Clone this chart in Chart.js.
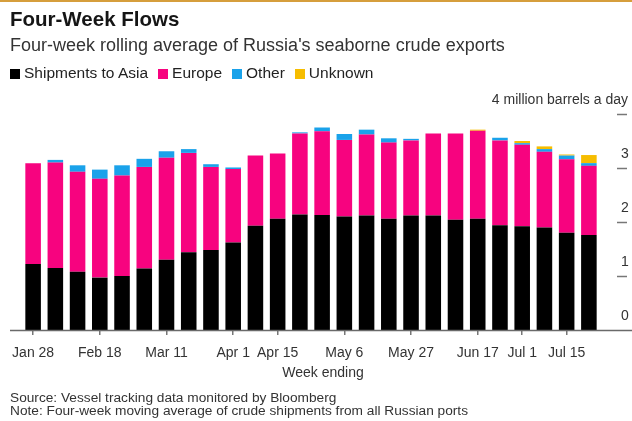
<!DOCTYPE html>
<html>
<head>
<meta charset="utf-8">
<title>Four-Week Flows</title>
<script src="https://cdn.jsdelivr.net/npm/chart.js@4.4.1/dist/chart.umd.min.js"></script>
<style>
  body { margin: 0; background: #fff; }
  #wrap {
    position: relative; width: 632px; height: 421px; overflow: hidden;
    font-family: 'Liberation Sans', Arial, Helvetica, sans-serif; color: #222;
  }
  #rule { position: absolute; left: 0; top: 0; width: 632px; height: 2px; background: #d69e3c; }
  #chart { position: absolute; left: 0; top: 0; }
  .txt { position: absolute; white-space: nowrap; z-index: 2; }
  #title { left: 10px; top: 7px; font-size: 20.5px; line-height: 24px; font-weight: bold; color: #151515; }
  #subtitle { left: 10px; top: 35px; font-size: 18px; line-height: 20px; color: #333; }
  #legend { left: 10px; top: 64px; font-size: 15.5px; line-height: 18px; color: #222; }
  #legend .item { display: inline-block; margin-right: 10px; }
  #legend .box { display: inline-block; width: 10px; height: 10px; margin-right: 4px; vertical-align: -1px; }
  #unit { right: 4px; top: 91px; font-size: 14px; line-height: 16px; color: #333; }
  #xtitle { left: 223px; width: 200px; top: 364px; text-align: center; font-size: 14px; line-height: 16px; color: #333; }
  #source { left: 10px; top: 390px; font-size: 13.7px; line-height: 16px; color: #333; }
  #note { left: 10px; top: 403px; font-size: 13.7px; line-height: 16px; color: #333; }
</style>
</head>
<body>
<div id="wrap">
  <div id="rule"></div>
  <canvas id="chart" width="632" height="421"></canvas>
  <div class="txt" id="title">Four-Week Flows</div>
  <div class="txt" id="subtitle">Four-week rolling average of Russia's seaborne crude exports</div>
  <div class="txt" id="legend"></div>
  <div class="txt" id="unit">4 million barrels a day</div>
  <div class="txt" id="xtitle">Week ending</div>
  <div class="txt" id="source">Source: Vessel tracking data monitored by Bloomberg</div>
  <div class="txt" id="note">Note: Four-week moving average of crude shipments from all Russian ports</div>
</div>
<script>
// Week ending dates, one bar per week
const weeks = [
    'Jan 28', 'Feb 4', 'Feb 11', 'Feb 18', 'Feb 25', 'Mar 4', 'Mar 11', 'Mar 18', 'Mar 25',
    'Apr 1', 'Apr 8', 'Apr 15', 'Apr 22', 'Apr 29', 'May 6', 'May 13', 'May 20', 'May 27',
    'Jun 3', 'Jun 10', 'Jun 17', 'Jun 24', 'Jul 1', 'Jul 8', 'Jul 15', 'Jul 22'
];

// Only these weeks get a label and a tick mark
const tickLabels = ['Jan 28', 'Feb 18', 'Mar 11', 'Apr 1', 'Apr 15', 'May 6', 'May 27', 'Jun 17', 'Jul 1', 'Jul 15'];

// Million barrels a day, four-week rolling average
const asia = [1.22, 1.15, 1.08, 0.97, 1.00, 1.14, 1.30, 1.44, 1.48, 1.62, 1.93, 2.06, 2.14,
              2.13, 2.10, 2.12, 2.06, 2.12, 2.12, 2.04, 2.06, 1.94, 1.92, 1.90, 1.80, 1.76];
const europe = [1.87, 1.95, 1.85, 1.83, 1.86, 1.88, 1.89, 1.84, 1.54, 1.36, 1.30, 1.21, 1.50,
                1.55, 1.42, 1.50, 1.41, 1.39, 1.52, 1.60, 1.63, 1.57, 1.51, 1.40, 1.36, 1.28];
const other = [0, 0.05, 0.12, 0.17, 0.19, 0.15, 0.12, 0.07, 0.05, 0.03, 0, 0, 0.02,
               0.07, 0.11, 0.09, 0.08, 0.03, 0, 0, 0, 0.05, 0.03, 0.05, 0.07, 0.05];
const unknown = [0, 0, 0, 0, 0, 0, 0, 0, 0, 0, 0, 0, 0,
                 0, 0, 0, 0, 0, 0, 0, 0.02, 0, 0.04, 0.05, 0.02, 0.15];

const yTicks = [0, 1, 2, 3, 4];

Chart.defaults.font.family = "'Liberation Sans', Arial, Helvetica, sans-serif";
Chart.defaults.color = '#333';

// Baseline across the full width plus short dashes beside the y labels
const axisMarks = {
    id: 'axisMarks',
    afterDraw(chart) {
        const { ctx, scales: { y } } = chart;
        ctx.save();
        ctx.strokeStyle = '#6a6a6a';
        ctx.lineWidth = 1.5;
        const y0 = y.getPixelForValue(0);
        ctx.beginPath();
        ctx.moveTo(10, y0 + 0.5);
        ctx.lineTo(chart.width, y0 + 0.5);
        ctx.stroke();
        ctx.strokeStyle = '#777';
        ctx.beginPath();
        y.ticks.forEach(t => {
            if (t.value > 0) {
                const py = Math.round(y.getPixelForValue(t.value)) + 0.5;
                ctx.moveTo(y.right - 13, py);
                ctx.lineTo(y.right - 3, py);
            }
        });
        ctx.stroke();
        ctx.restore();
    }
};

const ctx = document.getElementById('chart').getContext('2d');
const chart = new Chart(ctx, {
    type: 'bar',
    data: {
        labels: weeks,
        datasets: [
            { label: 'Shipments to Asia', data: asia, backgroundColor: '#000000' },
            { label: 'Europe', data: europe, backgroundColor: '#f7037f' },
            { label: 'Other', data: other, backgroundColor: '#1aa2ea' },
            { label: 'Unknown', data: unknown, backgroundColor: '#f6bd00' }
        ]
    },
    options: {
        responsive: false,
        animation: false,
        layout: { padding: { top: 114, left: 22, right: 2, bottom: 59 } },
        datasets: { bar: { barPercentage: 0.7, categoryPercentage: 1.0, borderWidth: 0 } },
        plugins: {
            legend: { display: false },
            tooltip: { enabled: false }
        },
        scales: {
            x: {
                stacked: true,
                border: { display: false },
                grid: {
                    offset: false,
                    drawOnChartArea: false,
                    tickLength: 5,
                    lineWidth: 1.5,
                    color: c => (c.tick && tickLabels.includes(c.tick.label) ? '#777' : 'rgba(0,0,0,0)')
                },
                ticks: {
                    autoSkip: false,
                    maxRotation: 0,
                    padding: 10,
                    font: { size: 14 },
                    color: '#333',
                    callback: function (value) {
                        const w = this.getLabelForValue(value);
                        return tickLabels.includes(w) ? w : '';
                    }
                },
                afterFit: s => { s.height = 32; }
            },
            y: {
                stacked: true,
                position: 'right',
                min: 0,
                max: 4,
                afterBuildTicks: s => { s.ticks = yTicks.map(v => ({ value: v })); },
                border: { display: false },
                grid: { display: false, drawTicks: false },
                ticks: {
                    padding: 21,
                    labelOffset: -14,
                    font: { size: 14 },
                    color: '#333',
                    callback: v => (v === 4 ? '' : v)
                },
                afterFit: s => { s.width = 30; }
            }
        }
    },
    plugins: [axisMarks]
});

// Legend built from the chart's own datasets
const legendEl = document.getElementById('legend');
chart.data.datasets.forEach(ds => {
    const item = document.createElement('span');
    item.className = 'item';
    const box = document.createElement('span');
    box.className = 'box';
    box.style.background = ds.backgroundColor;
    item.appendChild(box);
    item.appendChild(document.createTextNode(ds.label));
    legendEl.appendChild(item);
});
</script>
</body>
</html>
